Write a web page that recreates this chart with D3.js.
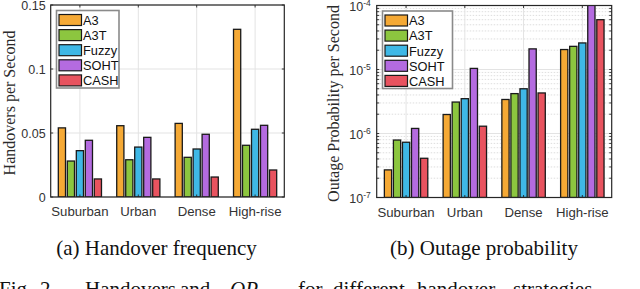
<!DOCTYPE html>
<html>
<head>
<meta charset="utf-8">
<script src="https://cdn.jsdelivr.net/npm/d3@7"></script>
<style>
  body { margin: 0; background: #fff; }
  svg { display: block; }
</style>
</head>
<body>
<svg width="640" height="289"></svg>
<script>
// chart data
const categories = ['Suburban', 'Urban', 'Dense', 'High-rise'];
const strategies = ['A3', 'A3T', 'Fuzzy', 'SOHT', 'CASH'];
const colors = ['#f5a935', '#8cc63f', '#3fb8e6', '#b46be0', '#e8535f'];

// handovers per second, one row per strategy
const handovers = [
  [0.054, 0.0557, 0.0575, 0.131],   // A3
  [0.0281, 0.0291, 0.031, 0.0404],  // A3T
  [0.0362, 0.039, 0.0375, 0.0529],  // Fuzzy
  [0.0443, 0.0466, 0.049, 0.056],   // SOHT
  [0.0141, 0.0141, 0.0156, 0.0211]  // CASH
];
// outage probability per second, one row per strategy
const outage = [
  [2.7e-7, 1.98e-6, 3.4e-6, 2.05e-5],
  [7.9e-7, 3.1e-6, 4.2e-6, 2.3e-5],
  [7.3e-7, 3.5e-6, 5.0e-6, 2.6e-5],
  [1.2e-6, 1.04e-5, 2.1e-5, 1.1e-4],
  [4.1e-7, 1.3e-6, 4.3e-6, 6.0e-5]
];
const hoTicks = [0, 0.05, 0.1, 0.15];
const hoTickLabels = ['0', '0.05', '0.1', '0.15'];
const opTicks = [1e-7, 1e-6, 1e-5, 1e-4];
const opTickExp = ['-7', '-6', '-5', '-4'];

const svg = d3.select('svg');
const axisColor = '#262626';
const gridColor = '#e3e3e3';
const sans = '"Liberation Sans", Arial, sans-serif';
const serif = '"Liberation Serif", "Times New Roman", serif';

/////////////////////////////////////////////////////////////
// one bar panel
const drawPanel = (cfg) => {
  const g = svg.append('g');
  const {x0, x1, top, bottom} = cfg;

  const xC = d3.scalePoint().domain(categories).range([x0, x1]).padding(0.5);
  const step = xC.step();
  const xS = d3.scaleBand().domain(strategies)
      .range([-step * 0.385, step * 0.385])
      .paddingInner(0.2).paddingOuter(0.1);

  const y = cfg.log
      ? d3.scaleLog().domain([1e-7, 1e-4]).range([bottom, top])
      : d3.scaleLinear().domain([0, 0.15]).range([bottom, top]);

  const clipId = 'clip' + cfg.id;
  g.append('clipPath').attr('id', clipId)
    .append('rect').attr('x', x0).attr('y', top).attr('width', x1 - x0).attr('height', bottom - top);

  // minor grid (log only)
  if (cfg.log) {
    const minor = y.ticks().filter(t => !opTicks.some(m => Math.abs(m - t) / m < 1e-6));
    g.selectAll('.mgrid').data(minor).enter().append('line')
      .attr('x1', x0).attr('x2', x1)
      .attr('y1', d => y(d)).attr('y2', d => y(d))
      .attr('stroke', '#d6d6d6').attr('stroke-width', 0.8)
      .attr('stroke-dasharray', '1.5,1.5');
  }
  // major grid
  const major = cfg.log ? opTicks : hoTicks;
  g.selectAll('.grid').data(major).enter().append('line')
    .attr('x1', x0).attr('x2', x1)
    .attr('y1', d => y(d)).attr('y2', d => y(d))
    .attr('stroke', gridColor).attr('stroke-width', 1);
  g.selectAll('.vgrid').data(categories).enter().append('line')
    .attr('x1', d => xC(d)).attr('x2', d => xC(d))
    .attr('y1', top).attr('y2', bottom)
    .attr('stroke', gridColor).attr('stroke-width', 1);

  // bars
  const rows = cfg.values;
  const bars = [];
  strategies.forEach((s, si) => {
    categories.forEach((c, ci) => bars.push({s, si, c, v: rows[si][ci]}));
  });
  g.append('g').attr('clip-path', `url(#${clipId})`)
    .selectAll('rect').data(bars).enter().append('rect')
    .attr('x', d => xC(d.c) + xS(d.s))
    .attr('width', xS.bandwidth())
    .attr('y', d => y(d.v))
    .attr('height', d => bottom - y(d.v))
    .attr('fill', d => colors[d.si])
    .attr('stroke', '#1a1a1a').attr('stroke-width', 1.3);

  // ticks inside the box
  const tl = 2.5;
  const tickYs = cfg.log ? y.ticks() : hoTicks;
  tickYs.forEach(t => {
    g.append('line').attr('x1', x0).attr('x2', x0 + tl).attr('y1', y(t)).attr('y2', y(t))
      .attr('stroke', axisColor).attr('stroke-width', 0.9);
    g.append('line').attr('x1', x1).attr('x2', x1 - tl).attr('y1', y(t)).attr('y2', y(t))
      .attr('stroke', axisColor).attr('stroke-width', 0.9);
  });
  categories.forEach(c => {
    g.append('line').attr('x1', xC(c)).attr('x2', xC(c)).attr('y1', top).attr('y2', top + tl)
      .attr('stroke', axisColor).attr('stroke-width', 0.9);
    g.append('line').attr('x1', xC(c)).attr('x2', xC(c)).attr('y1', bottom).attr('y2', bottom - tl)
      .attr('stroke', axisColor).attr('stroke-width', 0.9);
  });

  // box
  g.append('rect').attr('x', x0).attr('y', top).attr('width', x1 - x0).attr('height', bottom - top)
    .attr('fill', 'none').attr('stroke', axisColor).attr('stroke-width', 1.2);

  // y tick labels
  if (cfg.log) {
    opTicks.forEach((t, i) => {
      const tx = g.append('text').attr('x', x0 - 6).attr('y', y(t) + 5.5)
        .attr('text-anchor', 'end').attr('font-family', sans).attr('font-size', 12.5)
        .attr('fill', '#333');
      tx.append('tspan').text('10');
      tx.append('tspan').attr('dy', -5).attr('font-size', 8.5).text(opTickExp[i]);
    });
  } else {
    hoTicks.forEach((t, i) => {
      g.append('text').attr('x', x0 - 5).attr('y', y(t) + 4.5)
        .attr('text-anchor', 'end').attr('font-family', sans).attr('font-size', 12.5)
        .attr('fill', '#333').text(hoTickLabels[i]);
    });
  }

  // x tick labels
  g.selectAll('.xl').data(categories).enter().append('text')
    .attr('x', d => xC(d)).attr('y', bottom + 19)
    .attr('text-anchor', 'middle').attr('font-family', sans).attr('font-size', 13.2)
    .attr('fill', '#333').text(d => d);

  // y axis title
  g.append('text')
    .attr('transform', `translate(${cfg.titleX},${(top + bottom) / 2 + 2}) rotate(-90)`)
    .attr('text-anchor', 'middle').attr('font-family', serif).attr('font-size', 16)
    .attr('fill', '#2a2a2a').text(cfg.title);

  // legend
  const lg = g.append('g').attr('transform', `translate(${cfg.legX},${top + 5.5})`);
  lg.append('rect').attr('x', 0).attr('y', 0).attr('width', cfg.legW).attr('height', 77.5)
    .attr('fill', '#fff').attr('stroke', '#8a8a8a').attr('stroke-width', 1.6);
  strategies.forEach((s, i) => {
    const yy = 4 + i * 15.1;
    lg.append('rect').attr('x', 2.5).attr('y', yy).attr('width', 22.5).attr('height', 11)
      .attr('fill', colors[i]).attr('stroke', '#1a1a1a').attr('stroke-width', 1.2);
    lg.append('text').attr('x', 26.5).attr('y', yy + 10.3)
      .attr('font-family', sans).attr('font-size', 12.8).attr('fill', '#111').text(s);
  });
};

drawPanel({id: 'a', x0: 50.7, x1: 284.3, top: 5, bottom: 197, log: false,
  values: handovers, title: 'Handovers per Second', titleX: 15, legX: 56.5, legW: 62.5});
drawPanel({id: 'b', x0: 376.7, x1: 611.7, top: 5.5, bottom: 197.5, log: true,
  values: outage, title: 'Outage Probability per Second', titleX: 339, legX: 382.5, legW: 70});

// captions
const cap = svg.append('g').attr('font-family', serif).attr('fill', '#111');
cap.append('text').attr('x', 156.5).attr('y', 254.5).attr('text-anchor', 'middle')
  .attr('font-size', 21).text('(a) Handover frequency');
cap.append('text').attr('x', 484).attr('y', 254.5).attr('text-anchor', 'middle')
  .attr('font-size', 21).text('(b) Outage probability');

const figWords = ['Fig.', '2.', 'Handovers', 'and', 'OP', 'for', 'different', 'handover', 'strategies'];
const figX = [-1, 40, 85, 180, 230, 298, 333, 417, 513];
figWords.forEach((w, i) => {
  cap.append('text').attr('x', figX[i]).attr('y', 295.5).attr('font-size', 21)
    .attr('font-style', w === 'OP' ? 'italic' : 'normal').text(w);
});
</script>
</body>
</html>
